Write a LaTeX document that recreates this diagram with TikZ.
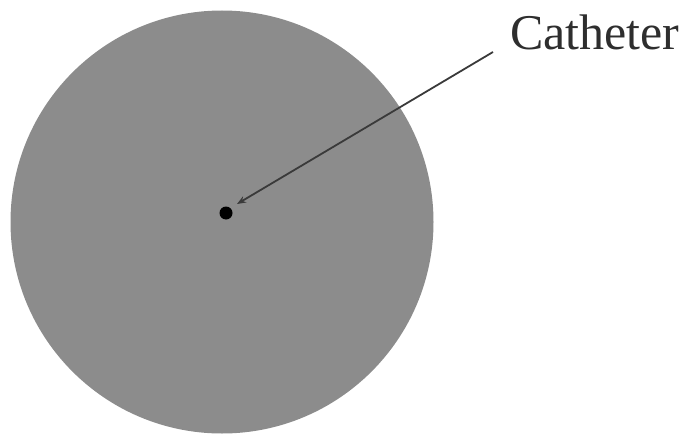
\documentclass[tikz,border=0pt]{standalone}
\usepackage{fontspec}
\setmainfont{Liberation Serif}
\usetikzlibrary{arrows.meta}
\definecolor{disk}{HTML}{8C8C8C}
\definecolor{lead}{HTML}{3A3A3A}
\begin{document}
\begin{tikzpicture}[x=1pt,y=-1pt,
  leader/.style={draw=lead,line width=1.8pt,-{Stealth[length=9pt,width=7pt]}},
  label/.style={font=\fontsize{50}{52}\selectfont,inner sep=0pt,anchor=base west}]
\useasboundingbox (0,0) rectangle (693,436);
\fill[disk] (222,222) circle[radius=211.5];
\node[circle,fill=black,inner sep=0pt,minimum size=13pt] (dot) at (226,213) {};
\node[label,text=lead!80!black] (cat) at (510,49) {Catheter};
\coordinate (start) at (493,52);
\coordinate (tip) at (237,204);
\draw[leader] (start) -- (tip);
\end{tikzpicture}
\end{document}
